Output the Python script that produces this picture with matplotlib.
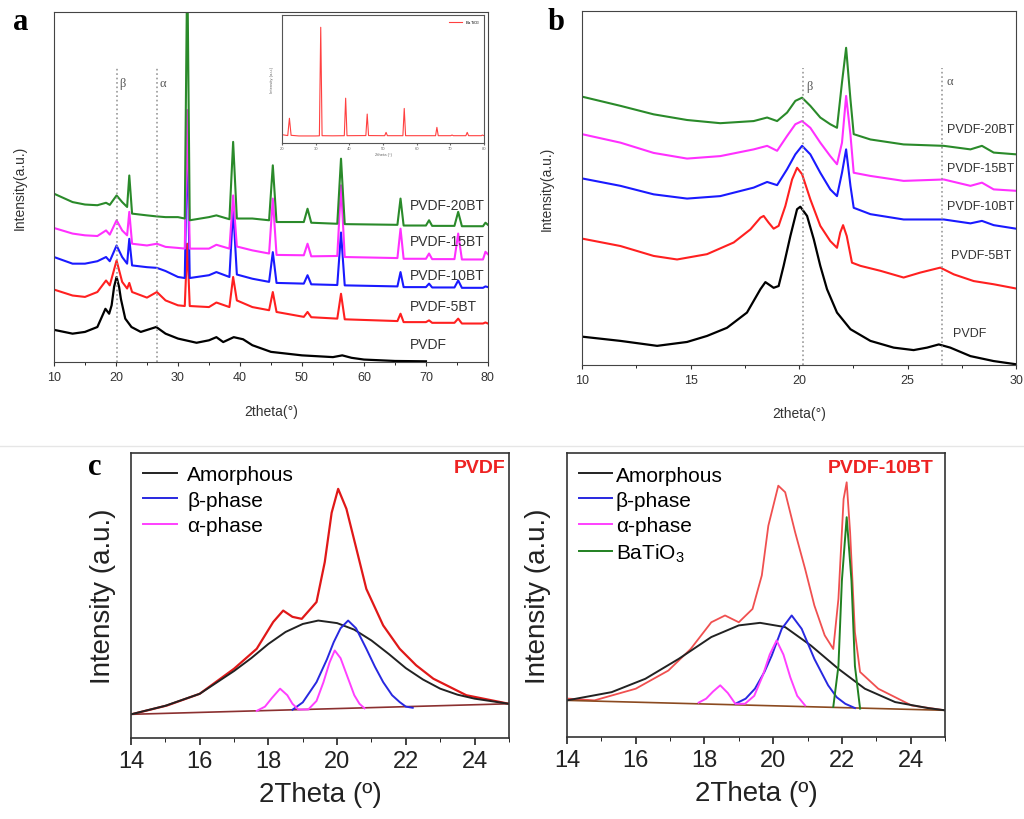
import numpy as np
import matplotlib.pyplot as plt
from matplotlib.ticker import MultipleLocator

plt.rcParams['font.family'] = ['Liberation Sans', 'DejaVu Sans']
plt.rcParams['mathtext.fontset'] = 'custom'
plt.rcParams['mathtext.rm'] = 'Liberation Sans'
plt.rcParams['mathtext.it'] = 'Liberation Sans:italic'

# ---------------- panel a : full XRD scans ----------------
a_x_pvdf = [10, 13, 15, 17, 18.3, 18.9, 19.3, 19.7, 20.1, 20.5, 20.8, 21.5, 22.5, 24, 26.5, 28, 30, 33, 35,
            36.2, 37.3, 39, 40.5, 42, 45, 50, 55, 56.5, 58, 60, 65, 70]
a_y_pvdf = [9.2, 8.1, 8.6, 10.0, 15.2, 13.8, 16.2, 21.5, 24.3, 21.5, 18.0, 12.4, 10.0, 8.6, 10.0, 8.1, 6.7, 5.5, 6.2,
            7.1, 5.7, 7.1, 6.5, 4.8, 2.9, 1.9, 1.4, 1.9, 1.2, 0.7, 0.3, 0.2]

a_x_bt = [10, 13, 15, 17, 18.4, 19, 20.1, 21, 21.8, 22.15, 22.6, 25, 26.6, 28, 30, 31.1, 31.5, 31.9,
          35, 36.2, 38.3, 38.9, 39.5, 42, 44.7, 45.3, 45.9, 50.3, 50.9, 51.5, 55.7, 56.3, 56.9,
          65.4, 65.9, 66.4, 70, 70.5, 71, 74.6, 75.2, 75.8, 79.2, 79.6, 80]
a_y_5bt = [20.7, 19.0, 18.6, 20.0, 23.3, 21.9, 29.0, 22.9, 21.0, 22.6, 20.0, 18.4, 20.0, 17.6, 16.2, 16.0, 33.8, 16.0,
           15.7, 17.0, 15.7, 24.3, 17.6, 15.7, 14.8, 20.0, 14.3, 12.9, 14.3, 12.8, 12.4, 19.5, 12.2,
           11.7, 13.8, 11.4, 11.4, 11.9, 11.2, 11.2, 12.4, 11.0, 11.0, 11.3, 11.0]
a_y_10bt = [30.0, 28.1, 28.1, 28.8, 30.0, 28.8, 33.3, 30.0, 28.1, 35.2, 27.6, 27.1, 26.9, 26.0, 24.3, 24.0, 65.0, 24.0,
            24.8, 25.7, 24.3, 43.8, 25.0, 23.8, 22.9, 31.4, 22.6, 22.4, 24.8, 22.2, 22.0, 37.0, 21.9,
            21.6, 25.7, 21.4, 21.4, 22.4, 21.3, 21.3, 23.3, 21.2, 21.2, 21.6, 21.4]
a_y_15bt = [38.3, 36.7, 36.2, 36.0, 37.6, 36.4, 40.5, 37.6, 36.2, 42.9, 33.8, 33.3, 33.8, 32.9, 32.6, 32.4, 72.0, 32.4,
            32.4, 33.5, 32.4, 47.6, 33.0, 31.9, 31.0, 46.7, 30.6, 30.5, 33.8, 30.2, 30.3, 50.5, 30.0,
            29.7, 38.1, 29.5, 29.5, 31.0, 29.4, 29.4, 36.7, 29.3, 29.3, 31.5, 30.8]
a_y_20bt = [48.1, 45.7, 45.0, 44.8, 45.5, 44.9, 47.6, 45.7, 44.3, 53.3, 42.4, 41.9, 41.6, 41.4, 41.4, 41.0, 115.0, 40.5,
            41.4, 41.9, 40.8, 62.9, 41.0, 41.0, 40.5, 56.2, 40.0, 40.0, 43.8, 39.8, 39.5, 58.1, 39.4,
            39.2, 46.7, 39.0, 39.0, 40.5, 38.9, 38.9, 42.9, 38.8, 38.8, 39.8, 39.2]

# inset: BaTiO3 powder
ins_x = [20, 21.7, 22.2, 22.7, 25, 30, 31.1, 31.5, 31.9, 35, 38.5, 38.9, 39.3, 44.9, 45.3, 45.7, 50.5, 50.9, 51.3,
         55.9, 56.3, 56.7, 65.6, 66, 66.4, 70.1, 70.5, 70.9, 74.6, 75, 75.4, 79.2, 79.5, 80]
ins_y = [6.5, 5.8, 19.3, 6.0, 5.5, 5.5, 5.6, 90.4, 5.7, 5.6, 5.7, 35.0, 5.7, 5.8, 22.6, 5.8, 5.7, 8.3, 5.7,
         5.7, 27.0, 5.7, 5.7, 12.2, 5.7, 5.7, 6.2, 5.7, 5.7, 8.3, 5.7, 5.7, 6.2, 5.7]

# ---------------- panel b : zoom 10-30 ----------------
b_x_pvdf = [10, 11.77, 13.46, 14.84, 15.76, 16.68, 17.6, 18.22, 18.45, 18.83, 19.06, 19.29, 19.6, 19.91, 20.06,
            20.37, 20.68, 20.98, 21.29, 21.75, 22.37, 23.29, 24.36, 25.28, 25.9, 26.44, 26.97, 27.9, 28.97, 30]
b_y_pvdf = [8.0, 6.8, 5.4, 6.5, 8.2, 10.5, 14.8, 21.4, 23.4, 21.8, 22.3, 28.0, 36.4, 44.0, 44.7,
            42.1, 35.5, 28.0, 21.4, 14.8, 10.1, 6.8, 4.9, 4.2, 4.9, 5.8, 4.9, 2.5, 1.1, 0.2]
b_x_5bt = [10, 11.77, 13.3, 14.38, 15.76, 16.99, 17.76, 18.22, 18.37, 18.6, 18.83, 19.06, 19.37, 19.68, 19.91,
           20.14, 20.52, 20.98, 21.44, 21.75, 21.9, 22.03, 22.2, 22.44, 22.83, 23.75, 24.82, 25.59, 26.51,
           27.13, 28.05, 28.97, 30]
b_y_5bt = [35.7, 33.6, 30.8, 29.8, 31.3, 34.6, 38.3, 41.6, 42.1, 40.2, 38.5, 39.3, 44.9, 52.4, 55.7,
           53.9, 46.8, 39.3, 35.0, 33.1, 37.4, 39.5, 36.4, 28.9, 28.0, 26.6, 24.7, 26.1, 27.5,
           25.6, 23.7, 22.8, 21.6]
b_x_bt = [10, 11.77, 13.3, 14.84, 16.37, 17.91, 18.53, 18.99, 19.45, 19.83, 20.14, 20.52, 20.98, 21.44,
          21.75, 21.98, 22.17, 22.37, 22.52, 23.29, 24.82, 26.67, 27.9, 28.43, 28.97, 30]
b_y_10bt = [52.7, 50.6, 48.2, 47.0, 47.7, 50.1, 51.7, 50.8, 55.3, 59.5, 61.9, 59.5, 54.3, 49.6,
            47.7, 54.3, 60.9, 50.6, 44.4, 42.6, 41.1, 41.1, 40.0, 40.7, 39.5, 38.5]
b_y_15bt = [65.2, 62.8, 59.9, 58.3, 59.0, 60.9, 61.9, 60.5, 64.7, 68.0, 68.9, 67.0, 62.8, 59.0,
            56.7, 62.8, 76.0, 65.0, 54.3, 53.4, 52.0, 52.4, 50.6, 51.5, 49.6, 49.2]
b_y_20bt = [75.8, 73.2, 70.8, 69.2, 68.3, 68.9, 69.9, 68.9, 71.3, 74.6, 75.5, 73.2, 69.9, 68.0,
            67.0, 79.8, 89.6, 75.0, 65.2, 63.7, 62.3, 61.9, 60.9, 61.9, 60.0, 59.5]

# ---------------- panel c : peak deconvolution ----------------
c1_x_data = [14.08, 15.05, 16, 17, 17.66, 18.14, 18.43, 18.7, 18.97, 19.4, 19.64, 19.84, 20.03, 20.27, 20.56,
             20.85, 21.34, 21.82, 22.3, 22.8, 23.76, 25]
c1_y_data = [8.5, 11.4, 15.5, 24.3, 31.3, 40.7, 44.7, 42.5, 41.8, 47.7, 61.7, 79.0, 87.4, 80.4, 66.4,
             52.3, 39.5, 31.3, 25.5, 20.8, 15.0, 12.0]
c1_x_amor = [14, 15, 16, 17, 17.5, 18, 18.5, 19, 19.45, 20, 20.5, 21, 21.5, 22, 22.5, 23, 23.5, 24, 25]
c1_y_amor = [8.3, 11.3, 15.5, 23.5, 28.0, 33.0, 37.2, 40.0, 41.2, 40.3, 38.0, 34.2, 29.5, 24.5, 20.5, 17.3, 15.2, 13.8, 12.0]
c1_x_beta = [18.7, 19.0, 19.4, 19.7, 19.9, 20.1, 20.32, 20.55, 20.85, 21.1, 21.34, 21.6, 21.82, 22.0, 22.2]
c1_y_beta = [9.9, 12.5, 19.6, 27.5, 33.6, 38.5, 41.2, 38.5, 31.3, 25.0, 19.6, 15.0, 12.6, 11.0, 10.6]
c1_x_alpha = [17.66, 17.9, 18.1, 18.34, 18.55, 18.7, 18.87, 19.16, 19.4, 19.6, 19.78, 19.93, 20.1, 20.3, 20.5, 20.65, 20.8]
c1_y_alpha = [9.5, 11.0, 14.0, 17.3, 15.0, 12.0, 10.0, 10.0, 13.0, 19.5, 26.5, 30.7, 28.0, 21.5, 15.0, 12.0, 10.4]
c1_x_base = [14, 25]
c1_y_base = [8.3, 12.0]

c2_x_data = [14.05, 14.8, 16, 16.95, 17.6, 18.2, 18.6, 19, 19.4, 19.67, 19.86, 20.15, 20.35, 20.64, 20.93,
             21.2, 21.5, 21.75, 21.9, 22.05, 22.14, 22.24, 22.38, 22.53, 23.06, 24.03, 25]
c2_y_data = [13.5, 12.9, 17.0, 23.4, 31.0, 40.4, 42.8, 40.4, 45.1, 56.9, 74.4, 88.5, 86.2, 72.1, 59.2,
             46.3, 35.8, 31.0, 48.7, 83.8, 89.7, 72.1, 36.9, 22.9, 17.0, 11.1, 9.4]
c2_x_amor = [14, 15.3, 16.28, 17.25, 18.2, 19, 19.62, 20.35, 21.1, 21.9, 22.67, 23.55, 24.5, 25]
c2_y_amor = [12.9, 15.8, 20.5, 27.5, 35.2, 39.3, 40.2, 38.7, 32.2, 24.0, 17.0, 12.3, 10.2, 9.4]
c2_x_beta = [18.9, 19.2, 19.47, 19.75, 19.96, 20.25, 20.54, 20.83, 21.2, 21.6, 21.85, 22.1, 22.38]
c2_y_beta = [11.7, 13.5, 17.0, 23.0, 28.7, 38.1, 42.8, 38.1, 27.5, 18.2, 14.0, 11.7, 10.2]
c2_x_alpha = [17.83, 18.05, 18.25, 18.46, 18.68, 18.9, 19.18, 19.45, 19.7, 19.9, 20.1, 20.3, 20.5, 20.7, 20.93]
c2_y_alpha = [12.1, 13.5, 16.0, 18.2, 15.5, 11.7, 11.7, 14.5, 21.7, 29.0, 34.0, 29.0, 21.0, 14.5, 11.1]
c2_x_bto = [21.75, 21.9, 22.0, 22.14, 22.28, 22.38, 22.53]
c2_y_bto = [10.6, 25.0, 55.0, 77.4, 55.0, 25.0, 10.0]
c2_x_base = [14, 25]
c2_y_base = [12.9, 9.4]

bt_labels = ['PVDF', 'PVDF-5BT', 'PVDF-10BT', 'PVDF-15BT', 'PVDF-20BT']
bt_colors = ['black', '#ff2020', '#1a1aff', '#ff30ff', '#2a8a2a']

fig = plt.figure(figsize=(10.24, 8.2), dpi=100)
fig.add_artist(plt.Line2D([0, 1], [0.455, 0.455], color='#e6e6e6', lw=1))

# ---- a ----
ax = fig.add_axes([0.0527, 0.5573, 0.4238, 0.4268])
ax.plot(a_x_pvdf, a_y_pvdf, color=bt_colors[0], lw=1.6)
for yy, c in zip([a_y_5bt, a_y_10bt, a_y_15bt, a_y_20bt], bt_colors[1:]):
    ax.plot(a_x_bt, yy, color=c, lw=1.5)
ax.set_xlim(10, 80)
ax.set_ylim(0, 100)
ax.set_yticks([])
ax.xaxis.set_major_locator(MultipleLocator(10))
ax.xaxis.set_minor_locator(MultipleLocator(5))
ax.tick_params(axis='x', direction='out', length=3, labelsize=9, colors='#333333')
ax.tick_params(axis='x', which='minor', length=2)
for x0 in [20.1, 26.6]:
    ax.plot([x0, x0], [0, 84], ls=':', color='#999999', lw=1.2)
ax.text(20.5, 79, 'β', family='Liberation Serif', fontsize=9, color='#555555')
ax.text(27.0, 79, 'α', family='Liberation Serif', fontsize=9, color='#555555')
for lab, yv in zip(bt_labels, [5.2, 16, 25, 34.5, 44.8]):
    ax.text(67.4, yv, lab, fontsize=10, color='#333333', va='center')
ax.set_xlabel('2theta(°)', fontsize=10, color='#333333')
ax.xaxis.set_label_coords(0.5, -0.12)
ax.set_ylabel('Intensity(a.u.)', fontsize=10, color='#333333')
ax.yaxis.set_label_coords(-0.062, 0.5)
for s in ax.spines.values():
    s.set_color('#444444')

ins = fig.add_axes([0.2754, 0.8244, 0.1973, 0.1561])
ins.plot(ins_x, ins_y, color='#ff4040', lw=0.8, label='BaTiO$_3$')
ins.set_xlim(20, 80)
ins.set_ylim(0, 100)
ins.set_yticks([])
ins.xaxis.set_major_locator(MultipleLocator(10))
ins.tick_params(axis='x', direction='out', length=1.5, labelsize=3, colors='#666666', pad=1)
ins.set_xlabel('2theta (°)', fontsize=3, color='#666666', labelpad=1)
ins.set_ylabel('Intensity (a.u.)', fontsize=3, color='#666666', labelpad=6)
ins.legend(loc='upper right', fontsize=3, frameon=False, handlelength=3)
for s in ins.spines.values():
    s.set_color('#555555')

# ---- b ----
bx = fig.add_axes([0.5684, 0.5537, 0.4238, 0.4317])
bx.plot(b_x_pvdf, b_y_pvdf, color=bt_colors[0], lw=1.6)
bx.plot(b_x_5bt, b_y_5bt, color=bt_colors[1], lw=1.5)
for yy, c in zip([b_y_10bt, b_y_15bt, b_y_20bt], bt_colors[2:]):
    bx.plot(b_x_bt, yy, color=c, lw=1.5)
bx.set_xlim(10, 30)
bx.set_ylim(0, 100)
bx.set_yticks([])
bx.xaxis.set_major_locator(MultipleLocator(5))
bx.xaxis.set_minor_locator(MultipleLocator(2.5))
bx.tick_params(axis='x', direction='out', length=3, labelsize=9, colors='#333333')
bx.tick_params(axis='x', which='minor', length=2)
for x0 in [20.2, 26.6]:
    bx.plot([x0, x0], [0, 84], ls=':', color='#999999', lw=1.2)
bx.text(20.35, 78, 'β', family='Liberation Serif', fontsize=9, color='#555555')
bx.text(26.8, 79.5, 'α', family='Liberation Serif', fontsize=9, color='#555555')
for lab, xv, yv in zip(bt_labels, [27.1, 27.0, 26.8, 26.8, 26.8], [8.9, 31, 44.8, 55.6, 66.7]):
    bx.text(xv, yv, lab, fontsize=9, color='#333333', va='center')
bx.set_xlabel('2theta(°)', fontsize=10, color='#333333')
bx.xaxis.set_label_coords(0.5, -0.115)
bx.set_ylabel('Intensity(a.u.)', fontsize=10, color='#333333')
bx.yaxis.set_label_coords(-0.066, 0.5)
for s in bx.spines.values():
    s.set_color('#444444')

# ---- c ----
def style_c(cx):
    cx.set_xlim(14, 25)
    cx.set_ylim(0, 100)
    cx.set_yticks([])
    cx.xaxis.set_major_locator(MultipleLocator(2))
    cx.xaxis.set_minor_locator(MultipleLocator(1))
    cx.tick_params(axis='x', direction='out', length=5, width=1.2, labelsize=17, colors='#222222')
    cx.tick_params(axis='x', which='minor', length=3)
    cx.set_xlabel('2Theta (º)', fontsize=20, color='#222222')
    cx.set_ylabel('Intensity (a.u.)', fontsize=20, color='#222222')
    for s in cx.spines.values():
        s.set_color('#333333')
        s.set_linewidth(1.2)

c1 = fig.add_axes([0.1279, 0.0988, 0.3691, 0.3476])
c1.plot(c1_x_data, c1_y_data, color='#e01818', lw=1.6)
c1.plot(c1_x_base, c1_y_base, color='#8b3030', lw=1.2)
c1.plot(c1_x_amor, c1_y_amor, color='#222222', lw=1.4, label='Amorphous')
c1.plot(c1_x_beta, c1_y_beta, color='#2828e0', lw=1.4, label='β-phase')
c1.plot(c1_x_alpha, c1_y_alpha, color='#ff40ff', lw=1.4, label='α-phase')
style_c(c1)
c1.xaxis.set_label_coords(0.5, -0.15)
c1.yaxis.set_label_coords(-0.04, 0.5)
c1.legend(loc='upper left', fontsize=15, frameon=False, handlelength=1.6, handletextpad=0.5,
          labelspacing=0.3, borderaxespad=0.2, bbox_to_anchor=(0.0, 1.0))
c1.text(0.99, 0.98, 'PVDF', transform=c1.transAxes, ha='right', va='top', color='#ee2222',
        fontsize=14, fontweight='bold')

c2 = fig.add_axes([0.5537, 0.1, 0.3691, 0.3463])
c2.plot(c2_x_data, c2_y_data, color='#f05050', lw=1.3)
c2.plot(c2_x_base, c2_y_base, color='#8b4a20', lw=1.2)
c2.plot(c2_x_amor, c2_y_amor, color='#222222', lw=1.4, label='Amorphous')
c2.plot(c2_x_beta, c2_y_beta, color='#2828e0', lw=1.4, label='β-phase')
c2.plot(c2_x_alpha, c2_y_alpha, color='#ff40ff', lw=1.4, label='α-phase')
c2.plot(c2_x_bto, c2_y_bto, color='#208020', lw=1.4, label='BaTiO$_3$')
style_c(c2)
c2.xaxis.set_label_coords(0.5, -0.15)
c2.yaxis.set_label_coords(-0.042, 0.5)
c2.legend(loc='upper left', fontsize=15, frameon=False, handlelength=1.55, handletextpad=0.2,
          labelspacing=0.3, borderaxespad=0.2, bbox_to_anchor=(0.0, 1.0))
c2.text(0.97, 0.98, 'PVDF-10BT', transform=c2.transAxes, ha='right', va='top', color='#ee2222',
        fontsize=14, fontweight='bold')

for lab, xp, yp in [('a', 0.02, 0.972), ('b', 0.543, 0.972), ('c', 0.093, 0.43)]:
    fig.text(xp, yp, lab, family='Liberation Serif', fontweight='bold', fontsize=22, ha='center', va='center')

fig.savefig('out.png', dpi=100)
